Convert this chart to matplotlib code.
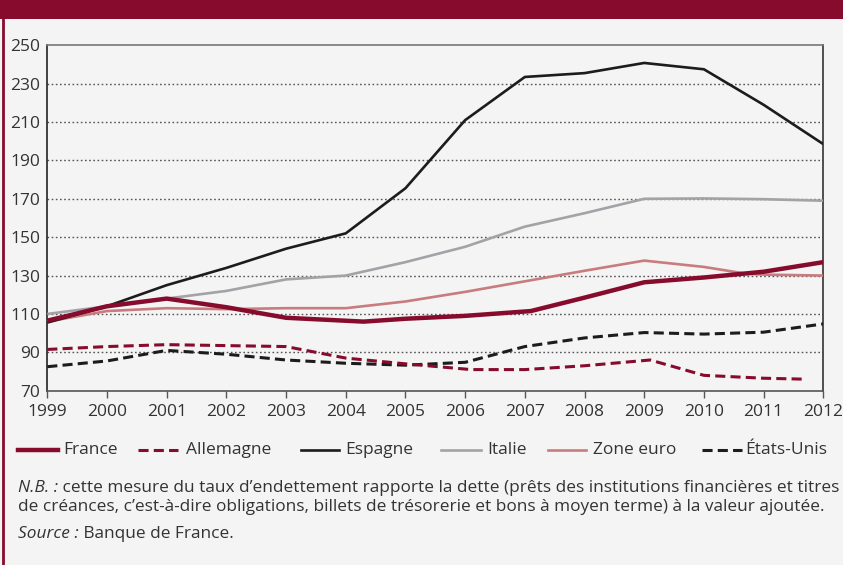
import matplotlib
matplotlib.use("Agg")
import matplotlib.pyplot as plt
from matplotlib.lines import Line2D
from matplotlib.patches import Rectangle

# ---------------- data ----------------
years = [1999, 2000, 2001, 2002, 2003, 2004, 2005, 2006, 2007, 2008, 2009, 2010, 2011, 2012]

france_x = [1999, 2000, 2001, 2002, 2003, 2004.3, 2005, 2006, 2007.1, 2008, 2009, 2010, 2011, 2012]
france_y = [106.5, 114, 118, 113.5, 108, 106, 107.5, 109, 111.5, 118.5, 126.5, 129, 132, 137]

allemagne_x = [1999, 2000, 2001, 2002, 2003, 2004, 2005, 2006.1, 2007, 2008, 2009.1, 2010, 2011, 2011.7]
allemagne_y = [91.5, 93, 94, 93.5, 93, 87, 84, 81, 81, 83, 86, 78, 76.5, 76]

espagne_x = years
espagne_y = [105.5, 114, 125, 134, 144, 152, 175.5, 211, 233.5, 235.5, 240.8, 237.5, 219, 198.5]

italie_x = years
italie_y = [110, 114, 118, 122, 128, 130, 137, 145, 155.5, 162.5, 170, 170.2, 169.8, 169]

zone_x = [1999, 2000, 2001, 2002, 2003, 2004, 2005, 2006, 2007, 2008, 2009, 2010, 2010.7, 2011, 2012]
zone_y = [106, 111.5, 113, 112.5, 113, 113, 116.5, 121.5, 127, 132.5, 137.8, 134.5, 131, 130.5, 130]

us_x = years
us_y = [82.5, 85.5, 91, 89, 86, 84.3, 83.3, 84.8, 93, 97.5, 100.3, 99.5, 100.5, 104.8]

yticks = [70, 90, 110, 130, 150, 170, 190, 210, 230, 250]

labels = ["France", "Allemagne", "Espagne", "Italie", "Zone euro", "États-Unis"]

RED = "#870b2c"
BLACK = "#1c1c1c"
GREY = "#a3a3a7"
PINK = "#c87c7e"
BG = "#f4f4f4"
TXT = "#333333"
FONT = "Open Sans"

plt.rcParams["font.family"] = [FONT, "DejaVu Sans"]

W, H = 843, 565
fig = plt.figure(figsize=(W / 100, H / 100), dpi=100)
fig.patch.set_facecolor(BG)


def fx(px):
    return px / W


def fy(py):
    return 1 - py / H


# header band and left border
fig.patches.append(Rectangle((0, fy(19)), 1, 19 / H, transform=fig.transFigure,
                             facecolor=RED, edgecolor="none", zorder=0))
fig.add_artist(Line2D([fx(3.5), fx(3.5)], [0, fy(19)], transform=fig.transFigure,
                      color=RED, lw=2, zorder=1))

ax = fig.add_axes([fx(47.3), fy(390.7), fx(823.3) - fx(47.3), (390.7 - 45.3) / H])
ax.set_facecolor(BG)

for y in yticks[1:-1]:
    ax.axhline(y, color="#555555", lw=1.0, ls=(0, (1.2, 1.8)), zorder=1)

DASH = (0, (3.3, 1.7))
series = [
    (france_x, france_y, RED, 3.2, "-"),
    (allemagne_x, allemagne_y, RED, 2.2, DASH),
    (espagne_x, espagne_y, BLACK, 1.9, "-"),
    (italie_x, italie_y, GREY, 1.9, "-"),
    (zone_x, zone_y, PINK, 1.9, "-"),
    (us_x, us_y, BLACK, 2.2, DASH),
]
order = [3, 4, 2, 5, 1, 0]
for i in order:
    x, y, c, lw, ls = series[i]
    ax.plot(x, y, color=c, lw=lw, ls=ls, zorder=3, solid_capstyle="butt")

ax.set_xlim(1999, 2012)
ax.set_ylim(70, 250)
ax.set_xticks(years)
ax.set_yticks(yticks)
ax.tick_params(axis="x", direction="out", length=5, width=1, color="#555555",
               labelsize=12.5, labelcolor=TXT, pad=4.5)
ax.tick_params(axis="y", length=0, labelsize=12.5, labelcolor=TXT, pad=5)
for s in ["top", "right"]:
    ax.spines[s].set_linewidth(1.2)
ax.spines["top"].set_color("#777777")
ax.spines["right"].set_color("#333333")
ax.spines["left"].set_color("#222222")
ax.spines["left"].set_linewidth(1.2)
ax.spines["bottom"].set_color("#555555")
ax.spines["bottom"].set_linewidth(1.2)

# ---------------- legend ----------------
leg_y = fy(450)
keys = [(18, 58, 63), (138, 178, 186), (301, 339, 345), (441, 481, 487), (548, 586, 593), (702, 742, 745)]
for i, (x0, x1, xt) in enumerate(keys):
    _, _, c, lw, ls = series[i]
    fig.add_artist(Line2D([fx(x0), fx(x1)], [leg_y, leg_y], transform=fig.transFigure,
                          color=c, lw=lw, ls=ls))
    fig.text(fx(xt), leg_y, labels[i], fontsize=12.5, color=TXT,
             va="center", ha="left")

# ---------------- notes ----------------
fig.canvas.draw()
r = fig.canvas.get_renderer()
NS = 12.4


def mixed(xpx, ypx, it, rest):
    t = fig.text(fx(xpx), fy(ypx), it, style="italic", fontsize=NS,
                 color=TXT, va="center", ha="left")
    bb = t.get_window_extent(renderer=r)
    fig.text(bb.x1 / W, fy(ypx), rest, fontsize=NS,
             color=TXT, va="center", ha="left")


mixed(18, 488, "N.B. :", " cette mesure du taux d\u2019endettement rapporte la dette (prêts des institutions financières et titres")
fig.text(fx(18), fy(507), "de créances, c\u2019est-à-dire obligations, billets de trésorerie et bons à moyen terme) à la valeur ajoutée.",
         fontsize=NS, color=TXT, va="center", ha="left")
mixed(18, 534, "Source :", " Banque de France.")

fig.savefig("out.png", dpi=100, facecolor=BG)
